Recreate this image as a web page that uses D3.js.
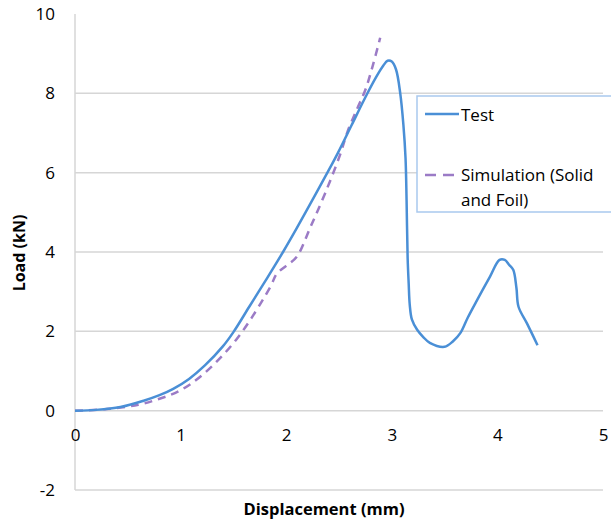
<!DOCTYPE html>
<html><head><meta charset="utf-8">
<script src="https://cdn.jsdelivr.net/npm/d3@7/dist/d3.min.js"></script>
<style>body{margin:0;background:#fff;} svg{display:block;}</style>
</head><body>
<svg id="c" width="611" height="524"></svg>
<script>
const testX = [0,0.2,0.43,0.65,0.8,0.93,1.08,1.23,1.4,1.5,1.65,1.8,1.97,2.1,2.25,2.39,2.49,2.62,2.75,2.85,2.92,2.96,3.0,3.04,3.08,3.11,3.13,3.14,3.15,3.16,3.17,3.19,3.24,3.3,3.36,3.5,3.58,3.65,3.72,3.81,3.93,4.02,4.07,4.11,4.15,4.18,4.2,4.28,4.38];
const testY = [0,0.02,0.09,0.25,0.39,0.55,0.8,1.14,1.62,1.98,2.62,3.26,4.0,4.6,5.32,6.0,6.5,7.2,7.9,8.4,8.7,8.82,8.8,8.6,8.0,7.2,6.37,5.3,3.85,3.2,2.67,2.3,2.04,1.85,1.71,1.61,1.75,1.96,2.35,2.8,3.38,3.8,3.8,3.68,3.55,3.1,2.62,2.2,1.65];
const simX = [0,0.3,0.6,0.8,0.99,1.21,1.53,1.85,1.91,2.0,2.1,2.23,2.37,2.51,2.58,2.67,2.75,2.82,2.89];
const simY = [0,0.04,0.15,0.3,0.5,0.91,1.8,3.12,3.45,3.65,3.88,4.63,5.49,6.45,7.03,7.6,8.09,8.7,9.4];
const xTicks = [0,1,2,3,4,5];
const yTicks = [-2,0,2,4,6,8,10];
const seriesNames = ["Test","Simulation (Solid and Foil)"];

const svg = d3.select("#c");
const x = d3.scaleLinear().domain([0,5]).range([75,603]);
const y = d3.scaleLinear().domain([-2,10]).range([490,14]);
const font = "'Open Sans', 'DejaVu Sans', sans-serif";
const grid = "#d6d6d6";

// gridlines
svg.append("g").selectAll("line").data(yTicks.filter(d=>d>-2 && d<10)).join("line")
  .attr("x1",x(0)).attr("x2",x(5)).attr("y1",d=>y(d)).attr("y2",d=>y(d))
  .attr("stroke",grid).attr("stroke-width",1.5);
svg.append("line").attr("x1",x(0)).attr("x2",x(5)).attr("y1",y(-2)).attr("y2",y(-2)).attr("stroke",grid).attr("stroke-width",1.5);
svg.append("line").attr("x1",x(0)).attr("x2",x(0)).attr("y1",y(10)).attr("y2",y(-2)).attr("stroke",grid).attr("stroke-width",1.5);

// y tick labels
const ya = d3.axisLeft(y).tickValues(yTicks).tickSize(0).tickPadding(20).tickFormat(d=>String(d));
const gy = svg.append("g").attr("transform",`translate(${x(0)},0)`).call(ya);
gy.select(".domain").remove();
gy.selectAll("text").attr("font-family",font).attr("font-size",17).attr("fill","#000");

// x tick labels
const xa = d3.axisBottom(x).tickValues(xTicks).tickSize(0).tickPadding(18).tickFormat(d=>String(d));
const gx = svg.append("g").attr("transform",`translate(0,${y(0)})`).call(xa);
gx.select(".domain").remove();
gx.selectAll("text").attr("font-family",font).attr("font-size",17).attr("fill","#000");

// titles
svg.append("text").attr("x",324).attr("y",515).attr("text-anchor","middle")
  .attr("font-family",font).attr("font-weight","bold").attr("font-size",16.5).text("Displacement (mm)");
svg.append("text").attr("transform","translate(25,253) rotate(-90)").attr("text-anchor","middle")
  .attr("font-family",font).attr("font-weight","bold").attr("font-size",16).text("Load (kN)");

const testData = testX.map((v,i)=>[v,testY[i]]);
const simData = simX.map((v,i)=>[v,simY[i]]);
const lineC = d3.line().x(d=>x(d[0])).y(d=>y(d[1])).curve(d3.curveCatmullRom.alpha(0.5));

svg.append("path").datum(simData).attr("d",lineC).attr("fill","none")
  .attr("stroke","#9b7bc6").attr("stroke-width",2.5).attr("stroke-dasharray","8,6");
svg.append("path").datum(testData).attr("d",lineC).attr("fill","none")
  .attr("stroke","#4a8fd6").attr("stroke-width",2.5);

// legend
const lg = svg.append("g");
lg.append("rect").attr("x",417).attr("y",96).attr("width",200).attr("height",116)
  .attr("fill","#fff").attr("stroke","#a9c9ee").attr("stroke-width",1.5);
lg.append("line").attr("x1",425).attr("x2",459).attr("y1",114).attr("y2",114).attr("stroke","#4a8fd6").attr("stroke-width",2.5);
lg.append("text").attr("x",461).attr("y",121).attr("font-family",font).attr("font-size",17).text(seriesNames[0]);
lg.append("line").attr("x1",425).attr("x2",459).attr("y1",175).attr("y2",175).attr("stroke","#9b7bc6").attr("stroke-width",2.5).attr("stroke-dasharray","11,7");
lg.append("text").attr("x",461).attr("y",181).attr("font-family",font).attr("font-size",17).text("Simulation (Solid");
lg.append("text").attr("x",461).attr("y",206).attr("font-family",font).attr("font-size",17).text("and Foil)");
</script>
</body></html>
